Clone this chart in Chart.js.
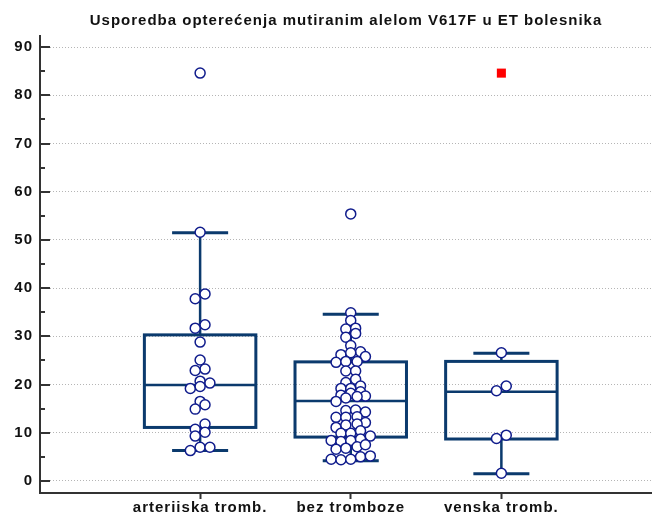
<!DOCTYPE html>
<html>
<head>
<meta charset="utf-8">
<script src="https://cdn.jsdelivr.net/npm/chart.js@4"></script>
<style>
  html, body { margin: 0; padding: 0; background: #fff; }
  canvas { display: block; }
</style>
</head>
<body>
<canvas id="chart" width="652" height="512"></canvas>
<script>
// chart data
const title = 'Usporedba opterećenja mutiranim alelom V617F u ET bolesnika';
const categories = ['arterijska tromb.', 'bez tromboze', 'venska tromb.'];
const yTicks = [0, 10, 20, 30, 40, 50, 60, 70, 80, 90];

// box plot summary per group
const q1 = [11.1, 9.1, 8.7];
const medians = [19.9, 16.6, 18.5];
const q3 = [30.3, 24.7, 24.8];
const whiskerLow = [6.3, 4.2, 1.5];
const whiskerHigh = [51.5, 34.6, 26.5];

// individual observations (values) and their jitter slot
const arterijskaValues = [84.6, 51.6, 38.8, 37.8, 32.4, 31.7, 28.8, 25.1, 23.2, 22.9, 20.7, 20.3, 19.2, 19.6, 16.5, 15.8, 14.9, 11.8, 10.7, 10.1, 9.3, 7.0, 7.0, 6.3];
const arterijskaSlots  = [0, 0, 1, -1, 1, -1, 0, 0, 1, -1, 0, 2, -2, 0, 0, 1, -1, 1, -1, 1, -1, 0, 2, -2];

const bezValues = [55.4, 34.9, 33.3, 31.5, 31.7, 30.6, 29.8, 28.1, 26.2, 26.8, 25.8, 26.6, 24.6, 24.8, 24.8, 22.8, 22.8, 21.1, 20.4, 19.2, 19.7, 19.2, 17.8, 18.2, 18.5, 17.6, 17.5, 17.2, 16.5, 14.6, 14.7, 14.3, 13.2, 13.2, 13.3, 12.1, 11.1, 11.6, 11.8, 9.9, 9.9, 10.4, 9.3, 8.4, 8.2, 8.4, 8.7, 6.6, 6.8, 7.1, 7.5, 4.5, 4.4, 4.5, 5.0, 5.2];
const bezSlots  = [0, 0, 0, -1, 1, 1, -1, 0, -2, 2, 3, 0, -3, -1, 1.3, -1, 1, 1, -1, -2, 2, 0, -2, 0, 2, 3, 1.3, -1, -3, -1, 1, 3, -3, -1, 1.3, 3, -3, -1, 1.3, -2, 0, 2, 4, -4, -2, 0, 2, -3, -1, 1.3, 3, -4, -2, 0, 2, 4];

const venskaValues = [26.6, 19.7, 18.7, 9.5, 8.8, 1.6];
const venskaSlots  = [0, 1, -1, 1, -1, 0];

// far outliers (red squares)
const farOutlierGroup = [3];
const farOutlierValues = [84.6];

const JITTER = 0.0325;
const BOX_HALF = 0.37;
const CAP_HALF = 0.186;
const BOX_COLOR = '#0b3a6d';
const POINT_COLOR = '#101c8c';
const FONT = '"Liberation Sans", Arial, sans-serif';

const groupValues = [arterijskaValues, bezValues, venskaValues];
const groupSlots = [arterijskaSlots, bezSlots, venskaSlots];

const pointData = [];
groupValues.forEach((vals, g) => {
  vals.forEach((v, i) => pointData.push({ x: g + 1 + groupSlots[g][i] * JITTER, y: v }));
});
const farData = farOutlierValues.map((v, i) => ({ x: farOutlierGroup[i], y: v }));

// boxes + whiskers, drawn behind the points
const boxPlugin = {
  id: 'boxes',
  beforeDraw(chart) {
    // the reference text is slightly letter-spaced
    chart.ctx.letterSpacing = '1px';
  },
  beforeDatasetsDraw(chart) {
    const { ctx, scales: { x, y } } = chart;
    ctx.save();
    ctx.strokeStyle = BOX_COLOR;
    for (let g = 0; g < categories.length; g++) {
      const c = g + 1;
      const xc = x.getPixelForValue(c);
      const xl = x.getPixelForValue(c - BOX_HALF);
      const xr = x.getPixelForValue(c + BOX_HALF);
      const cl = x.getPixelForValue(c - CAP_HALF);
      const cr = x.getPixelForValue(c + CAP_HALF);
      const yq1 = y.getPixelForValue(q1[g]);
      const yq3 = y.getPixelForValue(q3[g]);
      const ym = y.getPixelForValue(medians[g]);
      const ylo = y.getPixelForValue(whiskerLow[g]);
      const yhi = y.getPixelForValue(whiskerHigh[g]);

      ctx.lineWidth = 2.5;
      ctx.beginPath();
      ctx.moveTo(xc, yq3); ctx.lineTo(xc, yhi);
      ctx.moveTo(xc, yq1); ctx.lineTo(xc, ylo);
      ctx.stroke();

      ctx.lineWidth = 3;
      ctx.beginPath();
      ctx.moveTo(cl, yhi); ctx.lineTo(cr, yhi);
      ctx.moveTo(cl, ylo); ctx.lineTo(cr, ylo);
      ctx.stroke();

      ctx.strokeRect(xl, yq3, xr - xl, yq1 - yq3);
      ctx.lineWidth = 2.5;
      ctx.beginPath();
      ctx.moveTo(xl, ym); ctx.lineTo(xr, ym);
      ctx.stroke();
    }
    ctx.restore();
  }
};

// inward ticks on the y axis + title centred over the plot
const decorPlugin = {
  id: 'decor',
  afterDraw(chart) {
    const { ctx, chartArea, scales: { y } } = chart;
    ctx.save();
    ctx.strokeStyle = '#333';
    ctx.lineWidth = 2;
    for (let v = 0; v <= 90; v += 5) {
      const py = Math.round(y.getPixelForValue(v));
      const len = v % 10 === 0 ? 10 : 5;
      ctx.beginPath();
      ctx.moveTo(chartArea.left, py);
      ctx.lineTo(chartArea.left + len, py);
      ctx.stroke();
    }
    ctx.fillStyle = '#111';
    ctx.font = 'bold 15px ' + FONT;
    ctx.textAlign = 'center';
    ctx.textBaseline = 'alphabetic';
    ctx.fillText(title, (chartArea.left + chartArea.right) / 2, 25);
    ctx.restore();
  }
};

new Chart(document.getElementById('chart'), {
  type: 'scatter',
  data: {
    datasets: [
      {
        data: pointData,
        pointStyle: 'circle',
        pointRadius: 5,
        pointBorderWidth: 1.5,
        pointBorderColor: POINT_COLOR,
        pointBackgroundColor: '#fff',
      },
      {
        data: farData,
        pointStyle: 'rect',
        pointRadius: 6.4,
        pointBorderWidth: 0,
        pointBorderColor: '#ff0000',
        pointBackgroundColor: '#ff0000',
      },
    ],
  },
  options: {
    responsive: false,
    animation: false,
    layout: { autoPadding: false, padding: { top: 36, right: 0, left: 0, bottom: 0 } },
    plugins: {
      legend: { display: false },
      tooltip: { enabled: false },
    },
    scales: {
      x: {
        type: 'linear',
        min: -0.063,
        max: 4.0,
        afterBuildTicks: (s) => { s.ticks = [1, 2, 3].map((v) => ({ value: v })); },
        afterFit: (s) => { s.height = 19; },
        ticks: {
          callback: (v) => categories[v - 1],
          autoSkip: false,
          maxRotation: 0,
          padding: 0,
          color: '#111',
          font: { family: FONT, size: 15, weight: 'bold' },
        },
        grid: { drawOnChartArea: false, drawTicks: true, tickLength: 6, tickWidth: 2, tickColor: '#333' },
        border: { display: true, color: '#333', width: 2 },
      },
      y: {
        min: -2.5,
        max: 92.3,
        afterBuildTicks: (s) => { s.ticks = yTicks.map((v) => ({ value: v })); },
        afterFit: (s) => { s.width = 40; },
        ticks: {
          padding: 7,
          color: '#111',
          font: { family: FONT, size: 15, weight: 'bold' },
        },
        grid: { color: '#b5b5b5', lineWidth: 1, drawTicks: false },
        border: { display: true, color: '#333', width: 2, dash: [1, 2] },
      },
    },
  },
  plugins: [boxPlugin, decorPlugin],
});
</script>
</body>
</html>
